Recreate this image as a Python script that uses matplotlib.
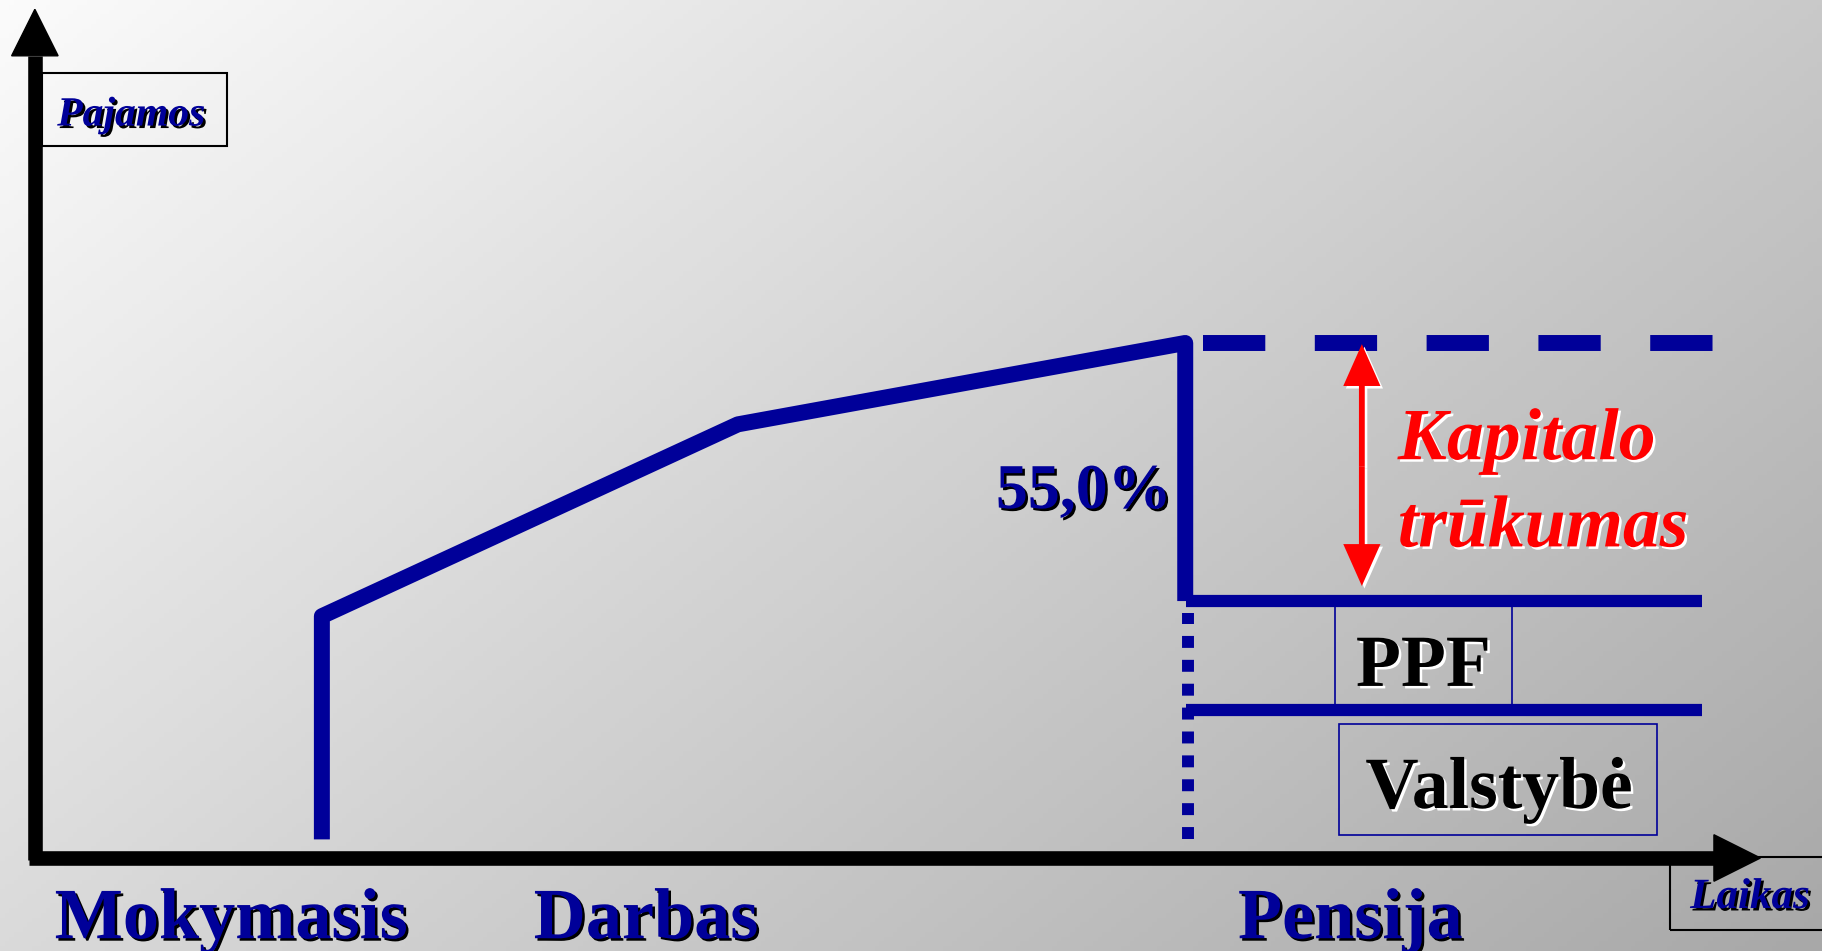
import numpy as np
import matplotlib
matplotlib.use("Agg")
import matplotlib.pyplot as plt
import matplotlib.patheffects as pe
from matplotlib.patches import Rectangle, Polygon

# ---------------- data (abstract time / income units) ----------------
path_time = [247, 247, 605, 990, 990]             # career income path
path_income = [16, 208, 373, 443, 221]
peak_income = 443                                  # last salary level
pension_total = 221                                # total pension (state + PPF)
state_pension = 127                                # state pension level
retire_time = 990
pension_end = 1435
end_time = 1445
stage_labels = ["Mokymasis", "Darbas", "Pensija"]
stage_time = [169, 526, 1132]
replacement_label = "55,0%"
gap_label = ["Kapitalo", "trūkumas"]
pillar_labels = ["PPF", "Valstybė"]
y_title = "Pajamos"
x_title = "Laikas"

NAVY = "#000099"
RED = "#ff0000"
SERIF = "Liberation Serif"

fig = plt.figure(figsize=(18.22, 9.51), dpi=100)
ax = fig.add_axes([0, 0, 1, 1])
ax.set_xlim(-30, 1538)
ax.set_ylim(-80, 738)
ax.axis("off")

# background gradient (top-left light -> bottom-right gray)
gx, gy = np.meshgrid(np.linspace(0, 1, 400), np.linspace(0, 1, 200))
grad = 0.6 * gx + 0.4 * gy
ax.imshow(grad, extent=(-30, 1538, -80, 738), origin="upper",
          cmap=matplotlib.colors.LinearSegmentedColormap.from_list(
              "bg", ["#fbfbfb", "#a8a8a8"]),
          aspect="auto", zorder=0)

# ---------------- axes arrows ----------------
ax.plot([0, 0], [-2, 690], color="black", lw=10.5, solid_capstyle="butt", zorder=3)
ax.add_patch(Polygon([[-20, 690], [20, 690], [0, 730]], closed=True,
                     color="black", zorder=3))
ax.plot([-5, 1445], [0, 0], color="black", lw=10.5, solid_capstyle="butt", zorder=3)
ax.add_patch(Polygon([[1445, -20], [1445, 20], [1485, 0]], closed=True,
                     color="black", zorder=3))

# axis title boxes
ax.add_patch(Rectangle((6, 612), 159, 63, fill=False, ec="black", lw=1.5, zorder=3))
ax.add_patch(Rectangle((1407, -62), 200, 63, fill=False, ec="black", lw=1.5,
                       zorder=3, clip_on=True))

shadow_black = [pe.withSimplePatchShadow(offset=(1.8, -1.8), shadow_rgbFace="black", alpha=1.0)]
shadow_white = [pe.withSimplePatchShadow(offset=(1.8, -1.8), shadow_rgbFace="white", alpha=1.0)]

ax.text(83, 630, y_title, ha="center", va="baseline", color=NAVY,
        fontfamily=SERIF, fontweight="bold", fontstyle="italic", fontsize=30,
        path_effects=shadow_black, zorder=4)
ax.text(1476, -43, x_title, ha="center", va="baseline", color=NAVY,
        fontfamily=SERIF, fontweight="bold", fontstyle="italic", fontsize=31,
        path_effects=shadow_black, zorder=4)

# ---------------- income path ----------------
ax.plot(path_time, path_income, color=NAVY, lw=11.5, solid_joinstyle="round",
        solid_capstyle="butt", zorder=4)

# pension level (state + PPF)
ax.plot([retire_time + 1, pension_end], [pension_total, pension_total],
        color=NAVY, lw=8.8, solid_capstyle="butt", zorder=4)

# dashed line: last salary level continued
ax.plot([retire_time + 15, end_time], [peak_income, peak_income], color=NAVY,
        lw=11.5, linestyle=(0, (3.9, 3.1)), dash_capstyle="butt", zorder=4)

# state pension level
ax.plot([retire_time + 1, pension_end], [state_pension, state_pension],
        color=NAVY, lw=8.8, solid_capstyle="butt", zorder=4)

# dotted vertical at retirement
ax.plot([retire_time + 2, retire_time + 2], [16, pension_total - 10], color=NAVY,
        lw=8.6, linestyle=(0, (1.0, 1.0)), dash_capstyle="butt", zorder=4)

# PPF box sides
for xv in (1119, 1271):
    ax.plot([xv, xv], [state_pension, pension_total], color=NAVY, lw=1.2, zorder=3)
# Valstybe box
ax.add_patch(Rectangle((1122, 20), 274, 95, fill=False, ec=NAVY, lw=1.2, zorder=3))

# ---------------- capital gap arrow ----------------
arrow_x = 1142
mid = (peak_income + pension_total) / 2 + 5
tips = (peak_income - 1, pension_total + 13)
for dx, dy, col, z in ((2.2, -2.2, "white", 5), (0, 0, RED, 6)):
    for tip in tips:
        ax.arrow(arrow_x + dx, mid + dy, 0, tip - mid, width=5, head_width=32,
                 head_length=36, length_includes_head=True, color=col, lw=0,
                 zorder=z)

# ---------------- labels ----------------
ax.text(978, 301, replacement_label, ha="right", va="baseline", color=NAVY,
        fontfamily=SERIF, fontweight="bold", fontsize=46,
        path_effects=shadow_black, zorder=5)
ax.text(1173, 343, gap_label[0], ha="left", va="baseline", color=RED,
        fontfamily=SERIF, fontweight="bold", fontstyle="italic", fontsize=53,
        path_effects=shadow_white, zorder=5)
ax.text(1173, 268, gap_label[1], ha="left", va="baseline", color=RED,
        fontfamily=SERIF, fontweight="bold", fontstyle="italic", fontsize=53,
        path_effects=shadow_white, zorder=5)
ax.text(1195, 148, pillar_labels[0], ha="center", va="baseline", color="black",
        fontfamily=SERIF, fontweight="bold", fontsize=53,
        path_effects=shadow_white, zorder=5)
ax.text(1260, 43, pillar_labels[1], ha="center", va="baseline", color="black",
        fontfamily=SERIF, fontweight="bold", fontsize=53,
        path_effects=shadow_white, zorder=5)

for lab, t in zip(stage_labels, stage_time):
    ax.text(t, -69, lab, ha="center", va="baseline", color=NAVY,
            fontfamily=SERIF, fontweight="bold", fontsize=52,
            path_effects=shadow_black, zorder=5)

fig.savefig("out.png", dpi=100)
